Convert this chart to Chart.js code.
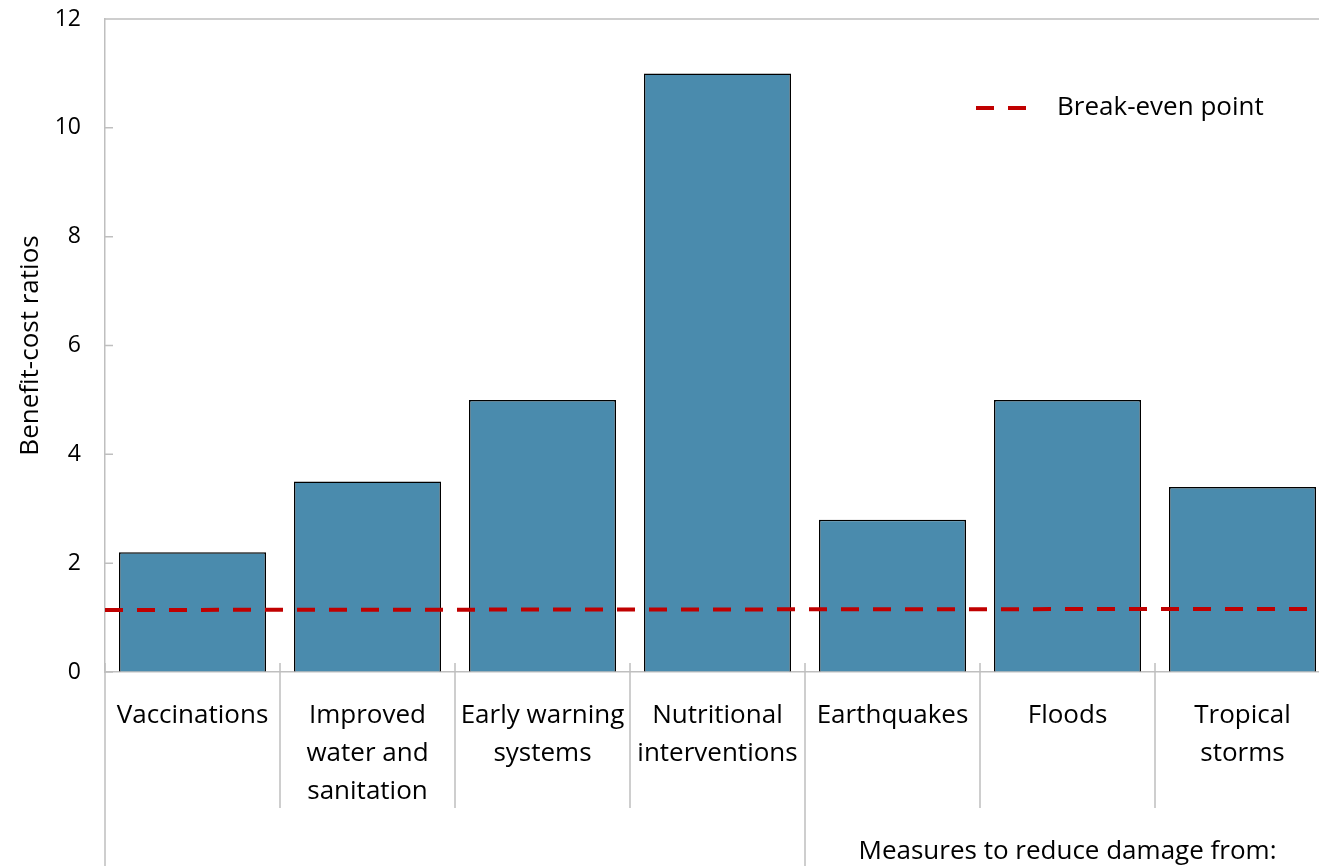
<!DOCTYPE html>
<html>
<head>
<meta charset="utf-8">
<script src="https://cdn.jsdelivr.net/npm/chart.js@4/dist/chart.umd.min.js"></script>
<style>
    html, body { margin: 0; padding: 0; background: #fff; overflow: hidden; }
    #wrap { width: 1332px; height: 866px; position: relative; }
</style>
</head>
<body>
<div id="wrap"><canvas id="chart"></canvas></div>
<script>
        // Chart data
        const categories = [
            ['Vaccinations'],
            ['Improved', 'water and', 'sanitation'],
            ['Early warning', 'systems'],
            ['Nutritional', 'interventions'],
            ['Earthquakes'],
            ['Floods'],
            ['Tropical', 'storms']
        ];
        const ratios = [2.2, 3.5, 5, 11, 2.8, 5, 3.4];
        // break-even line, left end and right end of the plot
        const breakEvenX = [0, 1];
        const breakEvenY = [1.14, 1.16];
        const yMin = 0, yMax = 12, yStep = 2;
        const groupLabel = 'Measures to reduce damage from:';
        const groupStart = 4; // first category of the group

        const FONT = "'Open Sans', 'Noto Sans', sans-serif";
        const GREY = '#BFBFBF';

        // frame top, inward ticks, two-level category separators and the legend
        const decorations = {
            id: 'decorations',
            afterDraw(chart) {
                const ctx = chart.ctx;
                const area = chart.chartArea;
                const x = chart.scales.x;
                const y = chart.scales.y;
                const n = categories.length;
                const w = (area.right - area.left) / n;
                ctx.save();
                ctx.strokeStyle = GREY;
                ctx.lineWidth = 1.5;
                ctx.beginPath();
                ctx.moveTo(area.left, area.top);
                ctx.lineTo(area.right, area.top);
                // y ticks pointing into the plot
                y.ticks.forEach((t, i) => {
                    const py = y.getPixelForTick(i);
                    ctx.moveTo(area.left, py);
                    ctx.lineTo(area.left + 8, py);
                });
                // category boundaries
                for (let i = 0; i <= n; i++) {
                    const px = x.getPixelForValue(i) - w / 2;
                    ctx.moveTo(px, area.bottom - 9);
                    const long = (i === 0 || i === groupStart);
                    ctx.lineTo(px, long ? chart.height : area.bottom + 136);
                }
                ctx.stroke();

                ctx.fillStyle = '#000';
                ctx.font = '26px ' + FONT;
                ctx.textBaseline = 'middle';
                // group label
                const gx = (x.getPixelForValue(groupStart) - w / 2 + area.right) / 2;
                ctx.textAlign = 'center';
                ctx.fillText(groupLabel, gx, area.bottom + 180);

                // legend for the break-even line
                const ds = chart.data.datasets[0];
                const ly = area.top + 89;
                const tx = area.right - 273;
                ctx.textAlign = 'left';
                ctx.fillText(ds.label, tx, ly);
                ctx.strokeStyle = ds.borderColor;
                ctx.lineWidth = ds.borderWidth;
                ctx.setLineDash(ds.borderDash);
                ctx.beginPath();
                ctx.moveTo(tx - 81, ly);
                ctx.lineTo(tx - 31, ly);
                ctx.stroke();
                ctx.restore();
            }
        };

        new Chart(document.getElementById('chart'), {
            data: {
                labels: categories,
                datasets: [{
                    type: 'line',
                    label: 'Break-even point',
                    xAxisID: 'xLine',
                    data: breakEvenX.map((v, i) => ({ x: v, y: breakEvenY[i] })),
                    borderColor: '#C00000',
                    borderWidth: 4,
                    borderDash: [18, 14],
                    pointRadius: 0,
                    fill: false,
                    order: 0
                }, {
                    type: 'bar',
                    label: 'Benefit-cost ratio',
                    data: ratios,
                    backgroundColor: '#4A8BAD',
                    borderColor: '#000',
                    borderWidth: 1.5,
                    barPercentage: 0.84,
                    categoryPercentage: 1,
                    grouped: false,
                    order: 1
                }]
            },
            options: {
                responsive: true,
                maintainAspectRatio: false,
                animation: false,
                layout: { padding: { top: 19, right: 2, left: 0, bottom: 0 } },
                plugins: {
                    tooltip: { enabled: false },
                    legend: { display: false }
                },
                scales: {
                    x: {
                        type: 'category',
                        grid: { display: false },
                        border: { color: GREY, width: 1.5 },
                        ticks: {
                            color: '#000',
                            font: { family: FONT, size: 26, lineHeight: 1.45 },
                            padding: 17,
                            maxRotation: 0,
                            autoSkip: false
                        },
                        afterFit: (scale) => { scale.height = 194; }
                    },
                    xLine: {
                        type: 'linear',
                        display: false,
                        min: 0,
                        max: 1
                    },
                    y: {
                        min: yMin,
                        max: yMax,
                        // invisible outer ticks only space the labels from the axis
                        grid: {
                            drawOnChartArea: false,
                            color: 'transparent',
                            tickColor: 'transparent',
                            tickLength: 20
                        },
                        border: { color: GREY, width: 1.5 },
                        ticks: {
                            stepSize: yStep,
                            color: '#000',
                            font: { family: FONT, size: 23 },
                            padding: 4
                        },
                        title: {
                            display: true,
                            text: 'Benefit-cost ratios',
                            color: '#000',
                            font: { family: FONT, size: 26 },
                            padding: { top: 15, bottom: 0 }
                        },
                        afterFit: (scale) => { scale.width = 105; }
                    }
                }
            },
            plugins: [decorations]
        });
</script>
</body>
</html>
